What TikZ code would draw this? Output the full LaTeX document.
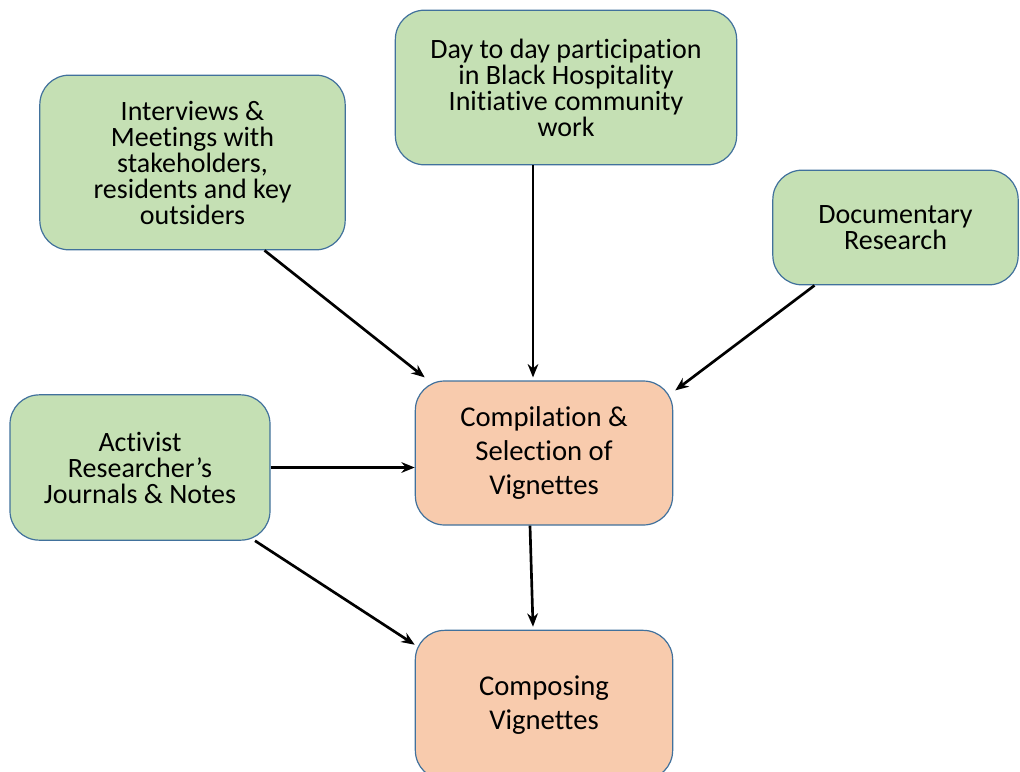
\documentclass[tikz,border=0pt]{standalone}
\usepackage{fontspec}
\setmainfont{Carlito}[Ligatures=NoCommon]
\usepackage{xcolor}
\usepackage{tikz}
\usetikzlibrary{arrows.meta, positioning, calc}
\definecolor{sourcegreen}{RGB}{197,224,180}
\definecolor{stagepeach}{RGB}{248,203,173}
\definecolor{edgeblue}{RGB}{65,113,156}
\newcommand{\sourcefont}{\fontsize{21}{19.5}\selectfont\setlength{\lineskiplimit}{-100pt}}
\newcommand{\stagefont}{\fontsize{21.5}{25.5}\selectfont}

\begin{document}
\begin{tikzpicture}[x=0.75pt, y=-0.75pt,
    source/.style={rectangle, rounded corners=22pt, draw=edgeblue, line width=0.9pt, fill=sourcegreen, align=center, font=\sourcefont},
    stage/.style={rectangle, rounded corners=22pt, draw=edgeblue, line width=0.9pt, fill=stagepeach, align=center, font=\stagefont},
    arrow/.style={-{Stealth[length=10pt, width=8pt]}, line width=2pt}
]
\useasboundingbox (0,0) rectangle (1020,771);

\node[source, minimum width=229pt, minimum height=131pt] (I) at (192.5,162.5) {Interviews \&\\Meetings with\\stakeholders,\\residents and key\\outsiders};
\node[source, minimum width=256pt, minimum height=116pt] (D) at (566,87.5) {Day to day participation\\in Black Hospitality\\Initiative community\\work};
\node[source, minimum width=184pt, minimum height=86pt] (R) at (895.5,227.5) {Documentary\\Research};
\node[source, minimum width=195pt, minimum height=109pt] (A) at (140,467.5) {Activist\\Researcher’s\\Journals \& Notes};
\node[stage, minimum width=193pt, minimum height=108pt] (C) at (544,453) {Compilation \&\\Selection of\\Vignettes};
\node[stage, minimum width=193pt, minimum height=112pt] (V) at (544,705) {Composing\\Vignettes};

\draw[arrow] ($(I.south)+(72,0)$) -- ($(C.north west)+(10,-3)$);
\draw[arrow] ($(D.south)+(-33,0)$) -- ($(C.north)+(-11,-3)$);
\draw[arrow] ($(R.south)+(-81,0)$) -- ($(C.north east)+(2,10)$);
\draw[arrow] (A.east) -- (A.east -| C.west);
\draw[arrow] ($(A.south)+(115,0)$) -- ($(V.north west)+(0,15)$);
\draw[arrow] ($(C.south)+(-14,0)$) -- ($(V.north)+(-11,-3)$);
\end{tikzpicture}
\end{document}
